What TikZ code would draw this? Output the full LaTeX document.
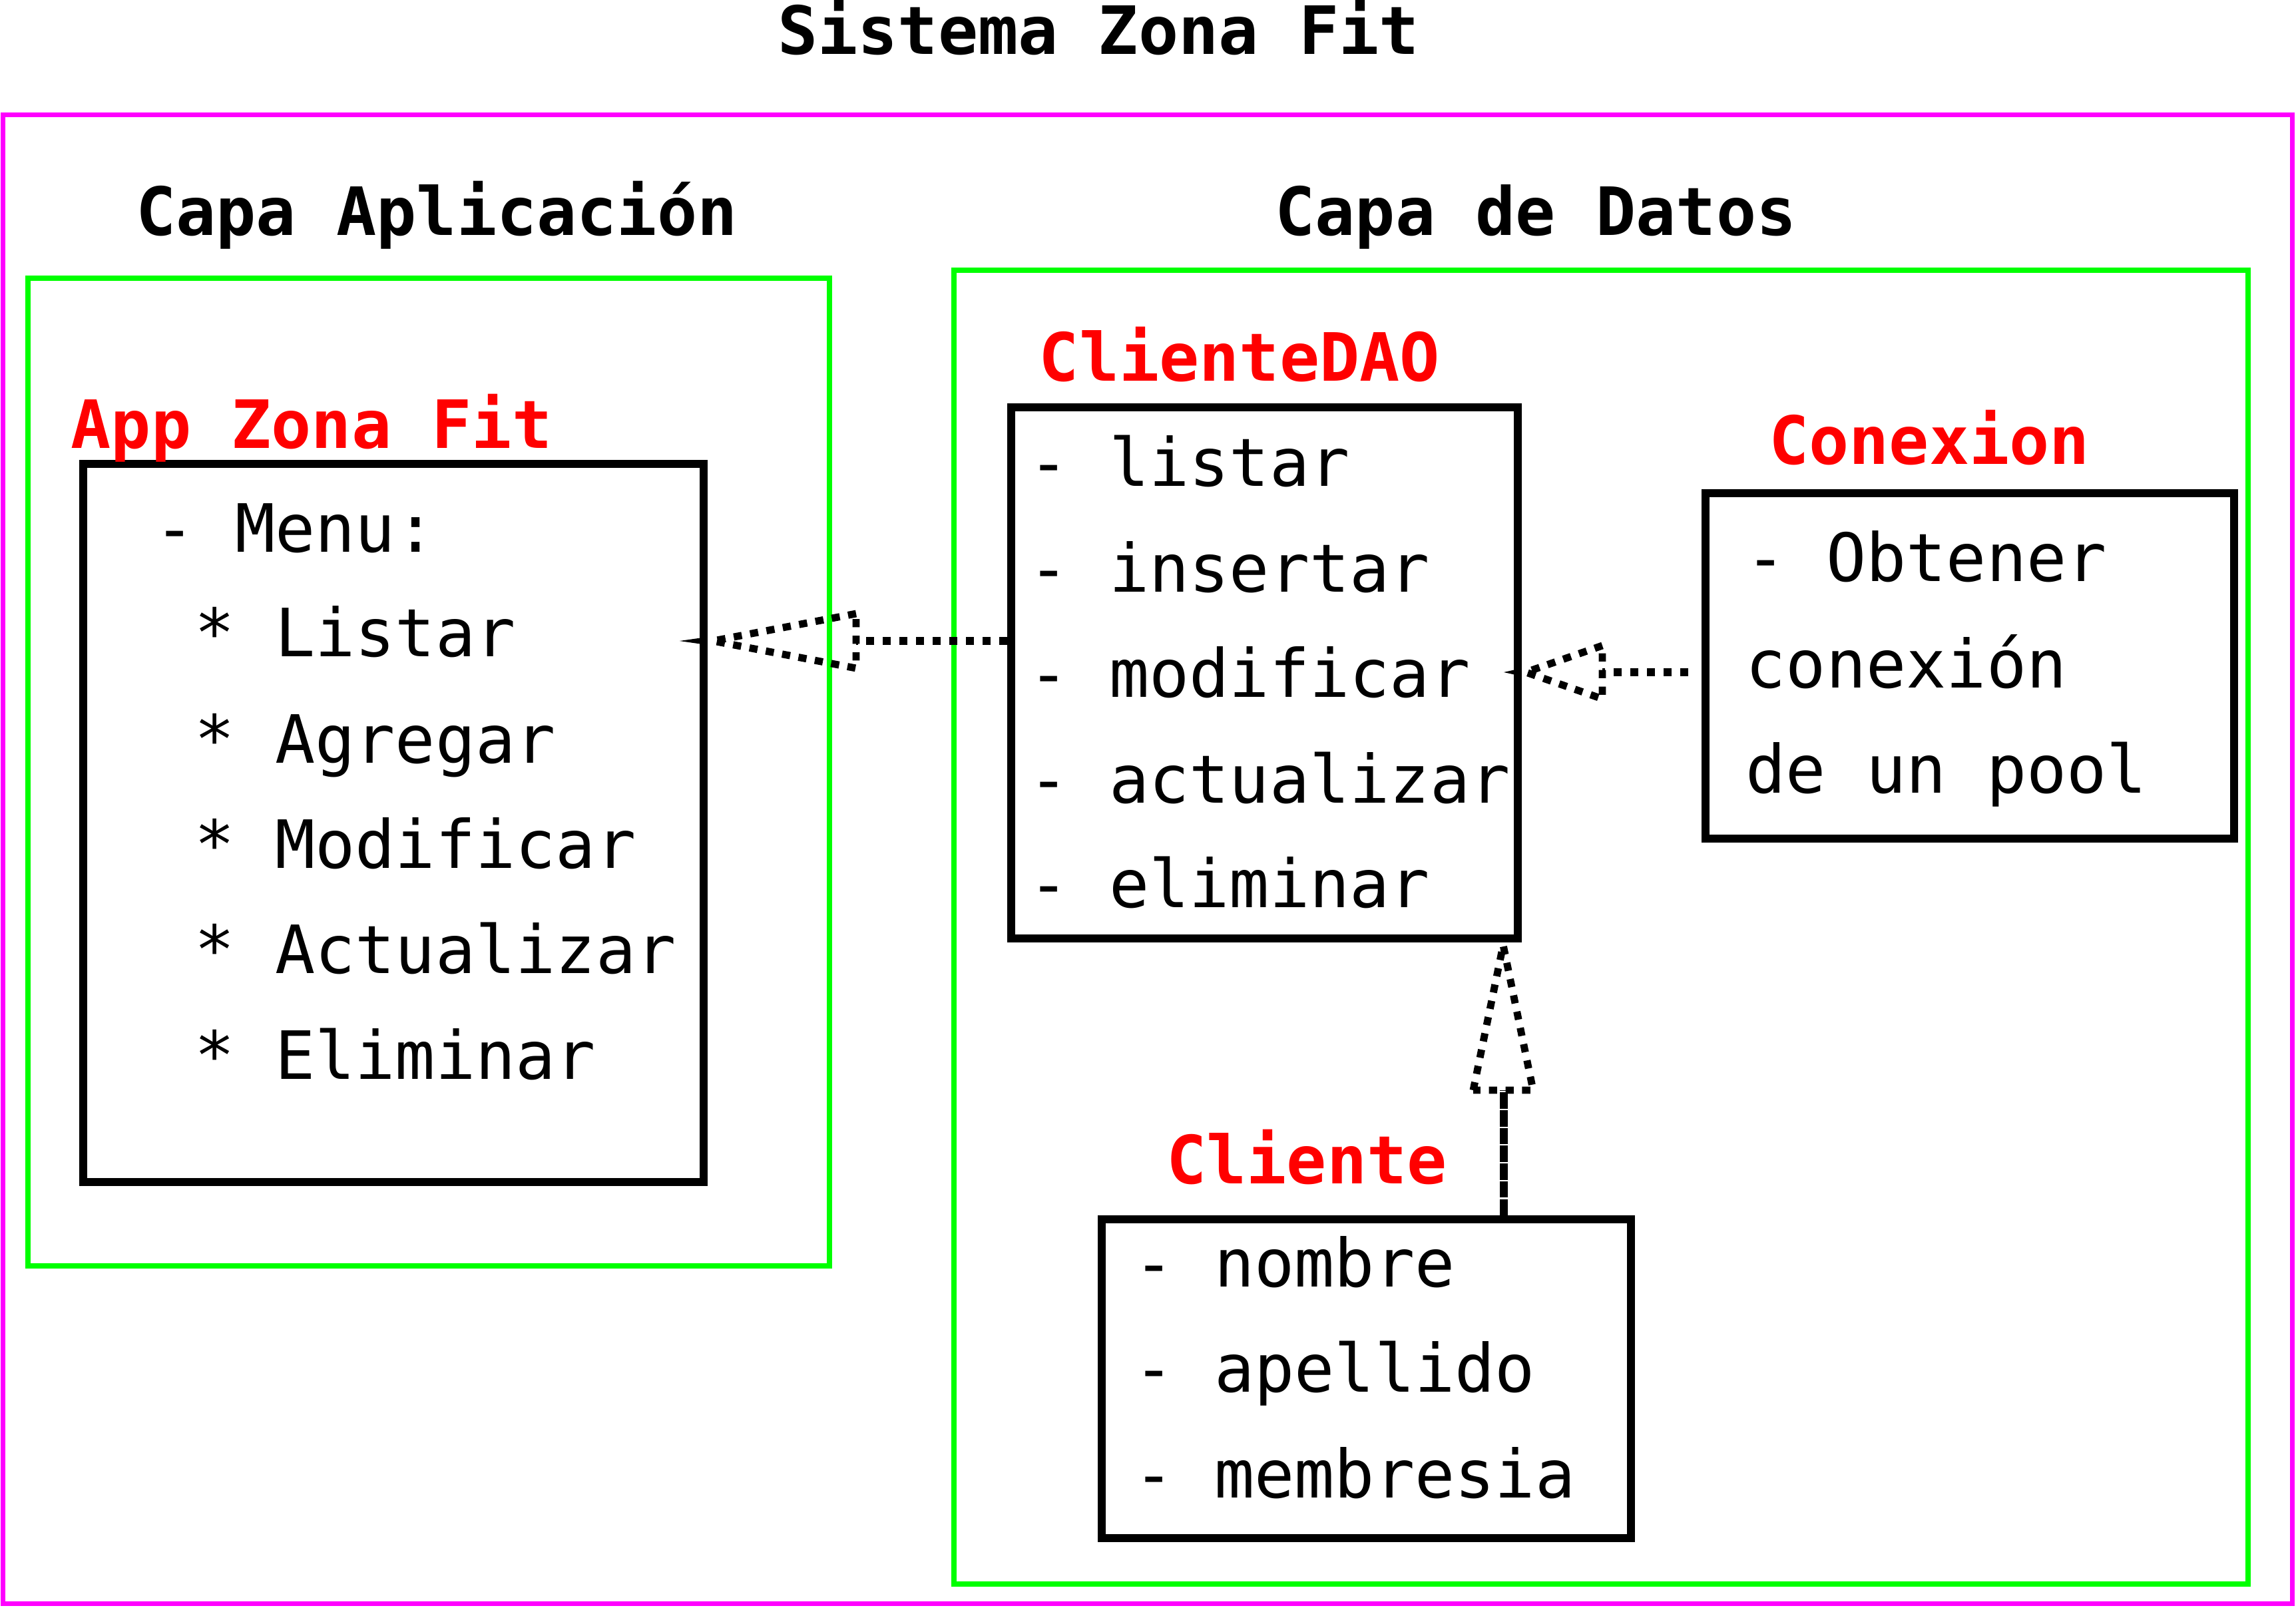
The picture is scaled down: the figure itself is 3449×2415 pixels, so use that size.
\documentclass[tikz,border=0pt]{standalone}
\usepackage{fontspec}
\newfontfamily\monofnt{DejaVu Sans Mono}
\definecolor{magline}{RGB}{255,0,255}
\definecolor{grnline}{RGB}{0,255,0}
\definecolor{redlbl}{RGB}{255,0,0}
\begin{document}
\begin{tikzpicture}[x=0.01cm,y=-0.01cm,
  txt/.style={inner sep=0pt,anchor=base west,font=\monofnt\fontsize{28.45pt}{34pt}\selectfont},
  hdr/.style={inner sep=0pt,anchor=base,font=\monofnt\bfseries\fontsize{28.45pt}{34pt}\selectfont},
  redhdr/.style={hdr,text=redlbl},
  classbox/.style={draw=black,line width=3.3pt,rectangle,inner sep=0pt},
  layerbox/.style={draw=grnline,line width=2.3pt,rectangle,inner sep=0pt},
  dotline/.style={line width=3.4pt,dash pattern=on 3.5pt off 3.6pt},
  dotshape/.style={line width=3.1pt,dash pattern=on 3.5pt off 3.6pt},
  dashline/.style={line width=3.4pt,dash pattern=on 7pt off 0.6pt},
  tiptri/.style={fill=black,draw=none}]
\useasboundingbox (0,0) rectangle (3449,2415);

% frames
\node[draw=magline,line width=2pt,rectangle,inner sep=0pt,minimum width=3439*0.01cm,minimum height=2237*0.01cm] (sys) at (1724,1291) {};
\node[layerbox,minimum width=1204*0.01cm,minimum height=1484*0.01cm] (app layer) at (644,1160) {};
\node[layerbox,minimum width=1944*0.01cm,minimum height=1974*0.01cm] (data layer) at (2405,1393) {};

% titles
\node[hdr] (title) at (1650,82) {Sistema Zona Fit};
\node[hdr] (hApp) at (656,353) {Capa Aplicación};
\node[hdr] (hData) at (2307,353) {Capa de Datos};

% class boxes
\node[classbox,minimum width=932*0.01cm,minimum height=1079*0.01cm] (app) at (591,1236.5) {};
\node[classbox,minimum width=761*0.01cm,minimum height=798*0.01cm] (dao) at (1899.5,1011) {};
\node[classbox,minimum width=794*0.01cm,minimum height=519*0.01cm] (con) at (2959,1000.5) {};
\node[classbox,minimum width=795*0.01cm,minimum height=479*0.01cm] (cli) at (2052.5,2071.5) {};

% red labels
\node[redhdr] (lApp) at (468,673) {App Zona Fit};
\node[redhdr] (lDao) at (1862,572) {ClienteDAO};
\node[redhdr] (lCon) at (2898,697) {Conexion};
\node[redhdr] (lCli) at (1963,1778) {Cliente};

% app text
\node[txt] (a0) at (232,829) {- Menu:};
\node[txt] (a1) at (292,986) {* Listar};
\node[txt] (a2) at (292,1146) {* Agregar};
\node[txt] (a3) at (292,1304) {* Modificar};
\node[txt] (a4) at (292,1462) {* Actualizar};
\node[txt] (a5) at (292,1621) {* Eliminar};

% dao text
\node[txt] (d1) at (1545,730) {- listar};
\node[txt] (d2) at (1545,889) {- insertar};
\node[txt] (d3) at (1545,1047) {- modificar};
\node[txt] (d4) at (1545,1206) {- actualizar};
\node[txt] (d5) at (1545,1363) {- eliminar};

% conexion text
\node[txt] (c1) at (2622,873) {- Obtener};
\node[txt] (c2) at (2622,1033) {conexión};
\node[txt] (c3) at (2622,1191) {de un pool};

% cliente text
\node[txt] (k1) at (1703,1933) {- nombre};
\node[txt] (k2) at (1703,2091) {- apellido};
\node[txt] (k3) at (1703,2250) {- membresia};

% connector 1: ClienteDAO -> App
\coordinate (b1) at (1286,963);
\draw[dotline] (dao.west |- b1) -- (b1);
\draw[dotshape] (1286,922) -- (1071,963) -- (1286,1004) -- cycle;
\fill[tiptri] (app.east |- b1) ++(-42,0) -- ++(42,-6) -- ++(0,12) -- cycle;

% connector 2: Conexion -> ClienteDAO
\coordinate (b2) at (2407,1010);
\draw[dotline,shorten <=0.2cm] (con.west |- b2) -- (b2);
\draw[dotshape] (2407,970) -- (2292,1010) -- (2407,1050) -- cycle;
\fill[tiptri] (dao.east |- b2) ++(-27,0) -- ++(27,-6) -- ++(0,12) -- cycle;

% connector 3: Cliente -> ClienteDAO
\coordinate (b3) at (2259,1638);
\draw[dashline] (cli.north -| b3) -- (b3);
\draw[dotshape] (2213,1638) -- (2258,1420) -- (2303,1638) -- cycle;
\end{tikzpicture}
\end{document}
